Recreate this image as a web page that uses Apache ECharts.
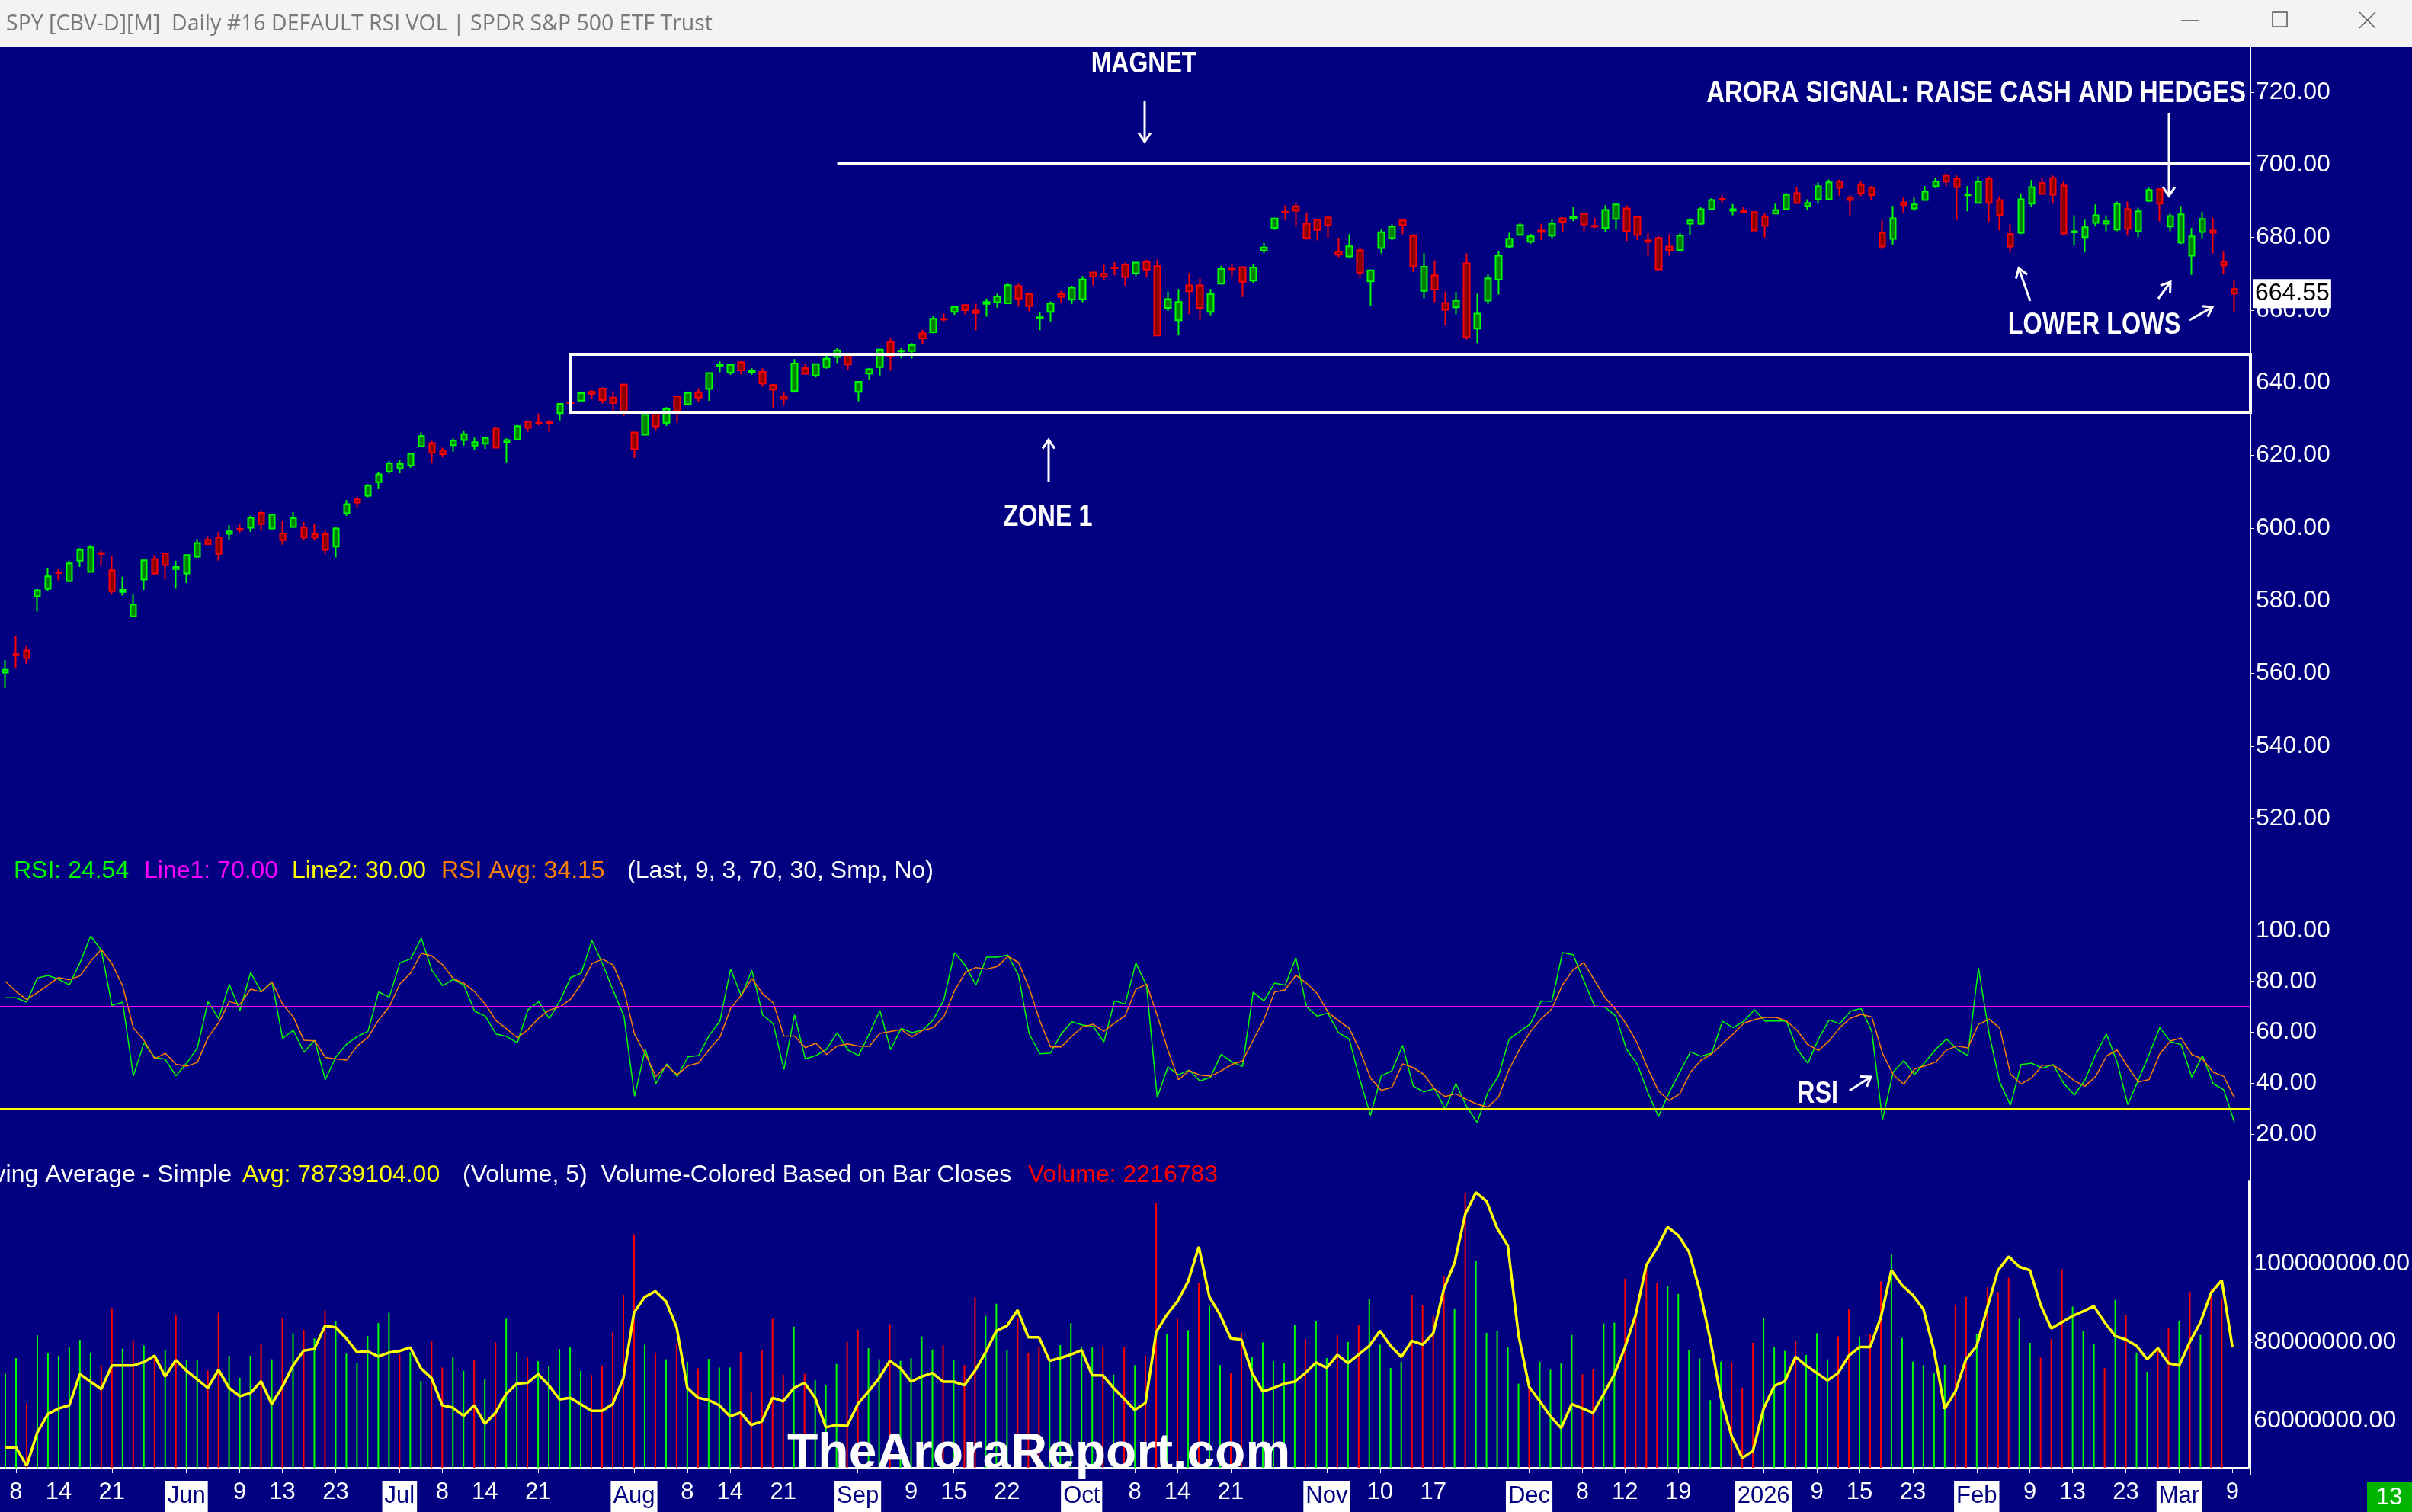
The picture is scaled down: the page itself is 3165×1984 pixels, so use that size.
<!DOCTYPE html>
<html><head><meta charset="utf-8"><title>SPY Daily</title>
<script src="https://cdn.jsdelivr.net/npm/echarts@6/dist/echarts.min.js"></script>
<style>html,body{margin:0;padding:0;background:#000080;overflow:hidden}#chart{width:3165px;height:1984px}</style>
</head><body><div id="chart"></div>
<script>
// trading days shown, by month
const may25=[7,8,9,12,13,14,15,16,19,20,21,22,23,27,28,29,30];
const jun25=[2,3,4,5,6,9,10,11,12,13,16,17,18,20,23,24,25,26,27,30];
const jul25=[1,2,3,7,8,9,10,11,14,15,16,17,18,21,22,23,24,25,28,29,30,31];
const aug25=[1,4,5,6,7,8,11,12,13,14,15,18,19,20,21,22,25,26,27,28,29];
const sep25=[2,3,4,5,8,9,10,11,12,15,16,17,18,19,22,23,24,25,26,29,30];
const oct25=[1,2,3,6,7,8,9,10,13,14,15,16,17,20,21,22,23,24,27,28,29,30,31];
const nov25=[3,4,5,6,7,10,11,12,13,14,17,18,19,20,21,24,25,26,28];
const dec25=[1,2,3,4,5,8,9,10,11,12,15,16,17,18,19,22,23,24,26,29,30,31];
const jan26=[2,5,6,7,8,9,12,13,14,15,16,20,21,22,23,26,27,28,29,30];
const feb26=[2,3,4,5,6,9,10,11,12,13,17,18,19,20,23,24,25,26,27];
const mar26=[2,3,4,5,6,9];

// x axis tick labels
const tickDates=['2025-05-08','2025-05-14','2025-05-21','2025-06-02','2025-06-09','2025-06-13','2025-06-23','2025-07-01','2025-07-08','2025-07-14','2025-07-21','2025-08-01','2025-08-08','2025-08-14','2025-08-21','2025-09-02','2025-09-09','2025-09-15','2025-09-22','2025-10-01','2025-10-08','2025-10-14','2025-10-21','2025-11-03','2025-11-10','2025-11-17','2025-12-01','2025-12-08','2025-12-12','2025-12-19','2026-01-02','2026-01-09','2026-01-15','2026-01-23','2026-02-02','2026-02-09','2026-02-13','2026-02-23','2026-03-02','2026-03-09'];
const tickTexts=['8','14','21','Jun','9','13','23','Jul','8','14','21','Aug','8','14','21','Sep','9','15','22','Oct','8','14','21','Nov','10','17','Dec','8','12','19','2026','9','15','23','Feb','9','13','23','Mar','9'];
const boxTicks=['Jun','Jul','Aug','Sep','Oct','Nov','Dec','2026','Feb','Mar'];

const open=[560.2,565.3,566.3,581.2,583.3,587.8,585.4,591.0,587.9,593.1,588.4,582.4,575.7,585.8,591.5,593.0,588.7,587.5,592.1,596.8,597.4,598.4,599.8,600.1,604.2,599.9,598.5,600.3,600.2,598.3,598.3,594.9,604.1,607.9,608.9,612.6,615.5,616.4,617.2,622.5,623.4,621.4,622.8,624.2,622.7,623.2,627.5,623.7,624.4,629.3,629.0,629.1,631.6,634.6,635.1,637.5,638.4,635.9,639.5,626.3,625.7,631.7,629.0,636.3,634.1,637.4,638.3,644.7,642.8,645.6,642.9,643.0,639.4,636.3,637.7,644.0,642.0,644.3,647.1,647.5,637.5,642.5,644.3,651.3,648.6,648.7,653.6,653.9,657.6,659.5,661.4,659.9,661.7,662.2,661.9,666.6,664.4,657.9,659.5,664.4,662.9,663.0,670.4,670.0,671.7,672.6,670.1,673.3,672.1,660.6,657.2,666.8,666.8,659.5,667.3,671.4,671.8,668.1,676.4,682.6,687.1,688.6,683.8,684.9,685.5,676.1,674.8,676.5,667.9,677.1,679.8,684.7,680.5,665.3,669.6,662.0,660.8,672.9,654.9,662.6,668.4,677.5,680.7,678.8,681.9,680.5,685.3,685.2,686.6,683.2,682.6,685.1,688.0,685.7,679.2,679.8,677.5,676.5,683.8,683.8,687.8,690.6,687.4,687.4,687.0,685.7,686.6,687.8,692.2,688.7,690.5,690.5,695.4,691.0,694.5,693.7,681.3,679.6,689.7,688.0,690.3,694.1,697.1,696.2,691.6,689.5,696.2,690.3,680.9,681.3,689.3,695.0,696.4,694.3,681.4,680.1,684.0,683.8,682.2,687.8,681.7,690.1,693.3,683.0,678.6,675.0,681.5,681.9,673.3,665.8];
const high=[563.7,570.2,567.5,583.2,589.1,588.9,591.0,594.5,595.3,593.8,592.4,586.6,581.7,591.2,592.6,593.2,591.0,592.7,597.0,597.8,598.9,600.8,601.2,603.4,604.9,603.9,601.9,604.4,601.7,601.2,599.4,600.4,607.7,608.6,612.1,615.3,618.5,618.8,620.5,626.3,624.0,622.1,624.7,626.9,624.9,625.2,627.9,624.7,628.4,629.5,631.5,629.8,634.2,636.0,637.6,638.0,638.7,637.7,639.8,626.3,631.3,632.3,633.3,636.3,637.6,638.5,642.9,645.9,645.1,646.0,644.0,644.0,639.7,637.6,646.5,645.3,645.3,647.4,649.5,647.9,640.5,644.1,649.2,652.2,649.7,650.9,654.6,658.3,659.1,661.0,661.5,661.8,663.2,664.5,667.3,667.3,664.6,659.5,662.4,665.3,666.7,669.4,670.6,672.5,673.2,673.1,673.2,673.9,673.9,665.1,665.8,670.2,668.7,665.8,672.2,672.9,672.1,672.7,678.5,685.5,688.9,689.7,686.9,685.1,685.9,679.9,680.9,677.3,671.1,682.2,683.6,684.96,680.9,675.7,673.7,665.1,665.0,675.6,664.5,670.0,676.2,681.3,683.9,681.0,683.8,684.9,685.5,688.3,686.8,685.4,688.9,689.3,688.9,686.0,681.2,680.3,680.8,681.2,685.3,688.3,690.8,691.7,689.2,688.5,687.2,686.8,689.3,692.2,694.0,690.5,695.2,696.0,696.0,691.6,695.4,694.2,684.7,688.7,691.0,691.0,694.2,696.4,697.7,697.1,694.2,696.8,696.8,691.4,683.6,692.2,695.8,696.4,697.1,695.4,686.1,684.9,689.1,686.1,689.9,689.9,688.2,693.7,693.5,686.8,688.7,682.6,687.0,685.5,676.1,668.3];
const low=[555.9,561.6,562.7,577.0,582.8,585.6,585.1,589.3,587.7,589.6,581.7,581.4,575.6,583.0,587.0,585.9,583.3,584.9,591.8,595.4,591.0,596.8,598.5,599.0,599.2,599.6,595.4,600.0,596.7,596.6,592.9,591.9,603.4,605.5,608.5,610.8,615.0,615.1,616.6,622.4,617.9,619.5,621.0,622.7,621.5,621.8,622.0,618.1,624.2,626.5,628.3,626.4,629.6,633.2,634.9,635.5,634.3,631.5,630.8,619.3,625.6,626.9,628.1,629.0,633.9,634.8,635.0,642.9,642.2,642.3,642.2,638.9,633.0,633.8,637.3,642.4,641.5,643.9,645.4,643.7,634.9,640.9,642.0,643.3,646.8,646.7,650.6,653.6,656.9,658.7,658.8,654.5,658.2,660.7,661.9,661.0,659.7,654.5,656.9,661.9,661.6,662.2,666.8,668.2,669.6,666.7,669.4,669.0,652.8,659.8,653.2,658.9,657.1,658.6,667.1,669.1,663.6,667.4,675.7,682.1,684.8,682.9,679.4,679.2,679.9,674.6,674.4,668.9,661.2,675.6,679.3,680.9,670.5,663.3,662.2,655.9,658.9,651.9,650.9,661.6,664.3,677.1,680.4,678.3,679.3,679.8,681.4,684.5,681.7,682.6,681.4,682.2,679.1,679.3,675.0,671.0,675.0,676.2,680.6,683.5,687.5,689.4,686.1,686.8,681.7,680.0,686.4,687.5,689.2,687.6,689.3,690.3,691.5,686.1,691.4,690.3,676.7,678.1,686.9,687.3,690.1,693.6,694.1,684.8,687.2,689.3,684.3,681.9,675.9,680.9,688.5,691.8,689.3,680.5,677.8,675.9,683.0,681.7,681.7,680.5,680.1,689.8,684.5,681.7,678.2,669.7,679.8,675.6,670.0,659.3];
const close=[561.0,565.0,564.2,582.9,586.7,587.6,590.3,594.0,594.7,592.9,582.6,583.0,578.9,591.1,587.5,589.8,589.3,592.6,595.9,595.6,592.9,599.1,599.5,602.8,601.1,603.7,596.7,602.7,597.4,597.4,594.0,599.9,606.6,607.0,611.7,614.8,617.8,617.65,620.45,625.34,620.68,620.34,624.06,625.82,623.62,624.81,622.14,624.22,628.04,627.58,628.77,628.86,634.21,634.42,637.10,636.94,635.26,634.46,632.08,621.72,631.17,627.97,632.78,632.25,637.18,635.92,642.69,644.89,644.95,643.44,643.30,639.81,638.11,635.55,645.31,642.47,645.16,646.63,648.92,645.05,640.27,643.74,649.12,647.24,648.83,650.33,652.21,657.63,657.41,660.91,660.00,659.18,662.26,663.70,666.84,663.21,661.10,658.05,661.82,663.68,666.18,668.45,669.22,669.21,671.61,669.12,673.11,671.16,653.02,663.04,662.23,665.17,660.64,664.39,671.30,671.29,667.80,671.76,677.25,685.24,687.06,687.39,679.83,682.06,683.34,675.24,677.58,670.31,670.97,681.44,683.00,683.38,672.04,671.93,665.67,660.08,662.63,652.53,659.03,668.73,675.02,679.68,683.39,680.27,681.5,683.8,684.3,685.7,683.6,683.0,687.6,689.1,681.7,680.7,678.8,671.2,676.5,680.5,684.7,687.8,690.3,690.4,687.8,687.0,681.9,683.2,687.6,691.8,689.5,689.5,694.1,695.2,693.7,690.3,692.2,691.6,677.5,685.3,688.9,689.1,692.6,695.4,695.4,693.9,691.9,695.4,689.5,686.1,677.5,690.5,693.9,692.0,691.8,681.1,681.7,682.8,686.1,684.5,689.3,682.4,687.2,693.1,689.3,685.9,686.4,680.3,685.1,681.3,672.3,664.55];
const prevClose=558.8;

// RSI(9) and its 3 bar average
const rsi=[73.5,73.5,71.8,81.3,82.3,80.8,78.6,87.3,97.8,92.3,70.5,71.8,42.8,55.8,50.1,49.3,42.8,47.8,53.8,72.0,65.3,78.8,68.5,83.5,75.8,79.8,57.5,60.8,52.1,56.8,41.3,50.3,55.3,58.3,60.3,75.8,73.8,87.3,88.8,97.0,84.3,78.3,80.8,78.5,68.3,66.3,59.3,58.3,55.8,68.8,72.0,65.3,72.3,81.5,83.3,96.1,86.8,76.3,66.3,34.8,53.3,39.8,47.5,42.6,50.3,50.8,58.8,64.3,84.8,74.3,84.3,66.8,63.3,45.3,66.8,49.5,50.8,53.3,59.8,53.0,50.8,59.3,68.5,53.1,61.5,59.8,60.8,64.8,72.8,91.3,86.3,78.5,89.5,89.5,90.3,82.3,59.3,51.5,51.8,59.3,64.1,62.8,62.3,56.1,72.3,71.1,87.3,78.3,34.3,46.3,43.3,45.1,40.8,42.3,51.3,48.3,46.5,75.8,72.3,79.3,78.5,89.3,70.0,66.3,67.5,59.8,57.3,41.3,27.3,42.8,44.8,54.8,38.8,36.5,37.8,29.8,39.8,30.8,24.5,36.3,42.8,57.3,60.3,63.3,72.3,72.1,91.3,90.5,80.3,70.3,69.8,66.3,53.3,47.5,36.3,26.8,36.3,44.3,52.3,50.5,51.8,64.3,61.8,64.3,68.8,64.3,64.5,64.3,53.3,47.8,57.3,64.8,63.3,68.3,69.3,60.3,25.5,44.3,48.8,43.3,48.3,53.3,57.3,53.3,50.8,85.3,59.3,40.3,31.3,47.3,47.8,45.8,47.3,39.8,35.3,41.3,51.3,59.3,48.3,31.5,41.3,51.3,61.8,56.3,55.1,42.3,50.8,39.8,37.3,24.54];
const rsiAvg=[80.0,76.0,72.9,75.5,78.5,81.5,80.6,82.2,87.9,92.5,86.9,78.2,61.7,56.8,49.6,51.7,47.4,46.6,48.1,57.9,63.7,72.0,70.9,76.9,75.9,79.7,71.0,66.0,56.8,56.6,50.1,49.5,49.0,54.6,58.0,64.8,70.0,79.0,83.3,91.0,90.0,86.5,81.1,79.2,75.9,71.0,64.6,61.3,57.8,61.0,65.5,68.7,69.9,73.0,79.0,87.0,88.7,86.4,76.5,59.1,51.5,42.6,46.9,43.3,46.8,47.9,53.3,58.0,69.3,74.5,81.1,75.1,71.5,58.5,58.5,53.9,55.7,51.2,54.6,55.4,54.5,54.4,59.5,60.3,61.0,58.1,60.7,61.8,66.1,76.3,83.5,85.4,84.8,85.8,89.8,87.4,77.3,64.4,54.2,54.2,58.4,62.1,63.1,60.4,63.6,66.5,76.9,78.9,66.6,53.0,41.3,44.9,43.1,42.7,44.8,47.3,48.7,56.9,64.9,75.8,76.7,82.4,79.3,75.2,67.9,64.5,61.5,52.8,42.0,37.1,38.3,47.5,46.1,43.4,37.7,34.7,35.8,33.5,31.7,30.5,34.5,45.5,53.5,60.3,65.3,69.2,78.6,84.6,87.4,80.4,73.5,68.8,63.1,55.7,45.7,36.9,33.1,35.8,44.3,49.0,51.5,55.5,59.3,63.5,65.0,65.8,65.9,64.4,60.7,55.1,52.8,56.6,61.8,65.5,67.0,66.0,51.7,43.4,39.5,45.5,46.8,48.3,53.0,54.6,53.8,63.1,65.1,61.6,43.6,39.6,42.1,47.0,47.0,44.3,40.8,38.8,42.6,50.6,53.0,46.4,40.4,41.4,51.5,56.5,57.7,51.2,49.4,44.3,42.6,34.15];

// volume in millions of shares and its 5 bar simple average
const volM=[72.0,76.0,64.5,81.8,77.2,76.6,78.7,80.6,77.4,74.2,88.7,78.4,80.6,79.2,76.7,78.1,86.8,75.5,75.5,72.8,87.5,76.6,71.0,76.6,79.6,75.7,86.2,82.3,83.2,81.0,88.1,85.4,77.1,74.7,81.6,84.9,87.5,76.9,77.5,70.2,80.2,73.6,76.4,72.8,75.5,70.6,80.0,86.0,77.5,76.2,75.2,73.9,78.3,78.7,72.7,71.7,74.1,82.5,92.1,107.5,79.4,77.4,75.7,79.8,75.0,73.4,75.8,73.6,73.6,77.5,67.2,77.9,86.0,71.8,84.0,72.0,70.4,69.0,74.5,80.1,83.2,78.5,75.7,84.6,75.3,76.0,81.5,78.2,79.3,75.5,74.2,91.5,86.7,89.8,78.0,86.2,77.4,78.7,75.2,79.3,84.9,78.7,78.7,78.8,71.8,78.9,74.2,76.6,115.5,82.1,86.0,83.1,95.0,89.2,74.2,72.2,82.4,76.3,80.0,75.2,74.7,84.5,80.8,85.3,76.0,81.8,80.1,84.4,91.0,79.4,73.5,75.0,92.1,89.5,86.7,96.9,88.5,118.1,100.8,82.4,82.8,78.9,69.5,69.4,75.1,73.0,74.7,81.9,71.9,73.1,84.8,85.0,96.2,87.0,99.9,95.0,94.3,92.3,78.0,75.9,65.3,75.1,74.9,68.5,79.9,86.2,78.9,77.8,80.4,76.8,82.3,75.7,81.5,88.5,81.3,82.1,95.5,102.3,81.1,75.1,74.2,72.1,74.3,89.6,91.5,82.1,94.0,92.8,96.4,86.0,79.9,76.1,80.8,98.5,89.1,82.8,79.7,73.5,90.8,86.9,77.4,72.5,78.9,83.6,85.5,92.8,81.9,93.4,91.0,2.216783];
const volAvgM=[53.3,53.3,48.6,57.1,61.8,63.2,64.0,71.9,70.0,68.1,74.1,74.1,74.1,75.0,76.6,71.3,75.5,72.8,70.6,68.4,73.0,68.4,66.3,67.1,70.1,64.3,68.7,74.1,77.9,78.3,84.2,83.8,81.0,77.5,77.7,76.4,77.4,77.8,78.7,73.4,70.9,64.0,63.4,61.3,64.0,59.3,62.1,66.9,69.5,69.7,71.9,69.1,65.5,65.9,64.3,62.6,62.6,64.3,70.9,87.6,91.5,93.0,90.4,83.8,68.4,65.9,65.3,64.0,61.2,62.1,59.0,59.9,65.9,65.0,68.4,69.7,65.9,58.4,59.0,58.7,64.3,67.5,70.9,75.3,73.4,70.0,71.3,72.2,70.0,70.0,69.1,72.8,77.5,82.9,84.2,88.2,81.3,81.3,75.3,76.0,76.9,78.0,71.6,71.6,68.4,65.6,62.8,64.6,82.6,87.0,90.4,95.5,104.3,91.5,87.0,81.0,80.7,72.2,67.5,68.4,69.5,70.0,72.2,74.9,73.5,76.8,74.7,76.9,79.1,82.9,79.1,76.3,80.4,79.4,82.3,93.6,100.2,112.5,118.1,115.9,109.0,104.6,81.9,68.7,65.0,61.2,58.2,64.3,63.2,62.1,66.9,71.9,78.8,87.0,99.6,104.0,109.3,107.2,103.0,93.3,80.7,65.9,56.2,50.6,52.4,63.1,68.9,70.1,76.3,74.1,72.2,70.3,72.2,76.6,78.8,78.8,86.3,98.3,94.5,92.0,88.4,77.9,63.1,67.5,75.7,79.1,88.9,98.3,101.8,99.2,98.3,89.5,83.5,85.1,86.7,87.9,89.2,85.1,81.6,80.7,79.1,75.7,78.5,74.7,74.1,80.1,85.1,92.6,95.8,78.739104];

// annotation levels
const magnetLevel=700.5, magnetFrom='2025-08-28';
const zoneTop=647.8, zoneBottom=631.9, zoneFrom='2025-07-24';

const days=[];
[['2025-05',may25],['2025-06',jun25],['2025-07',jul25],['2025-08',aug25],['2025-09',sep25],['2025-10',oct25],['2025-11',nov25],['2025-12',dec25],['2026-01',jan26],['2026-02',feb26],['2026-03',mar26]]
 .forEach(m=>m[1].forEach(d=>days.push(m[0]+'-'+(d<10?'0'+d:d))));
const cats=days.concat(['']);

const candle=days.map((d,i)=>[open[i],close[i],low[i],high[i]]);
const volBars=volM.map((v,i)=>{
 let pc=i?close[i-1]:prevClose;
 return {value:v,itemStyle:{color:close[i]>=pc?'#00ff00':'#ff0000'}};
});
const tickMap={};
tickDates.forEach((d,i)=>tickMap[d]=tickTexts[i]);
const lastClose=close[close.length-1];

const FONT='"Liberation Sans", Arial, sans-serif';
const AX={color:'#fff',fontSize:32,fontFamily:FONT,margin:7,padding:[8,0,0,0]};

function yAx(g,min,max,vals,fmt){
 return {type:'value',gridIndex:g,position:'right',min:min,max:max,
  axisLine:{show:true,lineStyle:{color:'#fff',width:2}},
  axisTick:{show:true,length:5,lineStyle:{color:'#fff'},customValues:vals},
  splitLine:{show:false},
  axisLabel:Object.assign({customValues:vals,formatter:fmt},AX)};
}
function xAx(g,show){
 return {type:'category',gridIndex:g,data:cats,show:show,
  axisLine:{show:show,lineStyle:{color:'#fff',width:2}},
  axisTick:{show:show,alignWithLabel:true,length:7,lineStyle:{color:'#fff'},interval:(i,v)=>tickMap[v]!==undefined},
  axisLabel:{show:show,interval:(i,v)=>tickMap[v]!==undefined,
   formatter:v=>{let t=tickMap[v];if(t===undefined)return '';return boxTicks.indexOf(t)>=0?'{b|'+t+'}':t;},
   color:'#fff',fontSize:31,fontFamily:FONT,margin:17,
   rich:{b:{backgroundColor:'#fff',color:'#000080',fontSize:31,fontFamily:FONT,padding:[5,3,5,3]}}},
  splitLine:{show:false}};
}

function arrow(x1,y1,x2,y2){
 let a=Math.atan2(y2-y1,x2-x1),h=14,w=0.6;
 return {type:'group',children:[
  {type:'line',shape:{x1:x1,y1:y1,x2:x2,y2:y2},style:{stroke:'#fff',lineWidth:3}},
  {type:'polyline',shape:{points:[[x2-h*Math.cos(a-w),y2-h*Math.sin(a-w)],[x2,y2],[x2-h*Math.cos(a+w),y2-h*Math.sin(a+w)]]},style:{stroke:'#fff',lineWidth:3,fill:null}}
 ]};
}
function txt(x,y,s,color,font,align,sx){
 return {type:'text',x:x,y:y,scaleX:sx||1,z:100,style:{text:s,fill:color,font:font,textAlign:align||'left',align:align||'left',textVerticalAlign:'middle',verticalAlign:'middle'}};
}
const BOLD=n=>'bold '+n+'px '+FONT;
const REG=n=>n+'px '+FONT;

var chart=echarts.init(document.getElementById('chart'),null,{renderer:'canvas'});
chart.setOption({
 animation:false,
 backgroundColor:'#000080',
 grid:[
  {left:-3,right:212,top:62,height:1048},
  {left:-3,right:212,top:1110,height:440},
  {left:-3,right:212,top:1550,height:386}
 ],
 xAxis:[xAx(0,false),xAx(1,false),xAx(2,true)],
 yAxis:[
  yAx(0,512.49,732.38,[520,540,560,580,600,620,640,660,680,700,720],v=>v.toFixed(2)),
  yAx(1,1.35,133.28,[20,40,60,80,100],v=>v.toFixed(2)),
  yAx(2,48.11,120.94,[60,80,100],v=>(v*1e6).toFixed(2))
 ],
 series:[
  {type:'candlestick',xAxisIndex:0,yAxisIndex:0,data:candle,barWidth:8,
   itemStyle:{color:'#008000',color0:'#8b0000',borderColor:'#00ff00',borderColor0:'#ff0000',borderWidth:2},
   markArea:{silent:true,z:5,data:[
    [{xAxis:zoneFrom,yAxis:zoneTop,itemStyle:{color:'rgba(0,0,0,0)',borderColor:'#ffffff',borderWidth:4}},{yAxis:zoneBottom}],
    [{xAxis:magnetFrom,yAxis:magnetLevel+0.42,itemStyle:{color:'#ffffff',borderWidth:0}},{yAxis:magnetLevel-0.42}]
   ]}
  },
  {type:'line',xAxisIndex:0,yAxisIndex:0,data:[],symbol:'none',silent:true,
   markLine:{silent:true,symbol:'none',z:6,data:[{yAxis:lastClose,lineStyle:{width:1,color:'rgba(0,0,0,0)'},
    label:{show:true,position:'end',distance:4,formatter:lastClose.toFixed(2),color:'#000000',backgroundColor:'#ffffff',fontSize:32,fontFamily:FONT,padding:[4,2,2,2]}}]}},
  {type:'line',xAxisIndex:1,yAxisIndex:1,data:rsi,symbol:'none',lineStyle:{color:'#00ff00',width:1.5},
   markLine:{silent:true,symbol:'none',label:{show:false},data:[
    {yAxis:70,lineStyle:{color:'#ff00ff',width:2,type:'solid'}},
    {yAxis:30,lineStyle:{color:'#ffff00',width:2,type:'solid'}}]}},
  {type:'line',xAxisIndex:1,yAxisIndex:1,data:rsiAvg,symbol:'none',lineStyle:{color:'#ff8000',width:1.5}},
  {type:'bar',xAxisIndex:2,yAxisIndex:2,data:volBars,barWidth:2},
  {type:'line',xAxisIndex:2,yAxisIndex:2,data:volAvgM,symbol:'none',lineStyle:{color:'#ffff00',width:3.5},z:3}
 ],
 graphic:[
  {type:'rect',shape:{x:0,y:0,width:3165,height:62},style:{fill:'#f3f3f3'},z:90},
  {type:'text',x:8,y:32,z:100,style:{text:'SPY [CBV-D][M]  Daily #16 DEFAULT RSI VOL | SPDR S&P 500 ETF Trust',fill:'#7a7a7a',font:'28.5px "Open Sans", "Noto Sans", sans-serif',textVerticalAlign:'middle',verticalAlign:'middle'}},
  {type:'line',z:100,shape:{x1:2862,y1:27,x2:2886,y2:27},style:{stroke:'#555',lineWidth:1.5}},
  {type:'rect',z:100,shape:{x:2982,y:16,width:19,height:19},style:{stroke:'#555',fill:null,lineWidth:1.5}},
  {type:'line',z:100,shape:{x1:3096,y1:16,x2:3117,y2:37},style:{stroke:'#555',lineWidth:1.5}},
  {type:'line',z:100,shape:{x1:3117,y1:16,x2:3096,y2:37},style:{stroke:'#555',lineWidth:1.5}},
  {type:'line',z:50,shape:{x1:2953,y1:62,x2:2953,y2:1936},style:{stroke:'#fff',lineWidth:2}},

  txt(1501,84,'MAGNET','#fff',BOLD(39),'center',0.82),
  arrow(1502,133,1502,186),
  txt(2947,123,'ARORA SIGNAL: RAISE CASH AND HEDGES','#fff',BOLD(40),'right',0.825),
  arrow(2846,148,2846,257),
  txt(1375,679,'ZONE 1','#fff',BOLD(40),'center',0.81),
  arrow(1376,633,1376,577),
  txt(2748,427,'LOWER LOWS','#fff',BOLD(41),'center',0.79),
  arrow(2664,395,2649,352),
  arrow(2832,392,2848,370),
  arrow(2873,420,2903,403),
  txt(2385,1436,'RSI','#fff',BOLD(40),'center',0.81),
  arrow(2427,1431,2455,1413),

  txt(18,1143,'RSI: 24.54','#00ff00',REG(32)),
  txt(189,1143,'Line1: 70.00','#ff00ff',REG(32)),
  txt(383,1143,'Line2: 30.00','#ffff00',REG(32)),
  txt(579,1143,'RSI Avg: 34.15','#ff8000',REG(32)),
  txt(823,1143,'(Last, 9, 3, 70, 30, Smp, No)','#ffffff',REG(32)),

  txt(304,1542,'Moving Average - Simple','#ffffff',REG(32),'right'),
  txt(318,1542,'Avg: 78739104.00','#ffff00',REG(32)),
  txt(607,1542,'(Volume, 5)  Volume-Colored Based on Bar Closes','#ffffff',REG(32)),
  txt(1349,1542,'Volume: 2216783','#ff0000',REG(32)),

  txt(1033,1909,'TheAroraReport.com','#ffffff',BOLD(66)),
  {type:'rect',z:100,shape:{x:3106,y:1944,width:59,height:40},style:{fill:'#00b400'}},
  txt(3135,1965,'13','#ffffff',REG(31),'center')
 ]
});
</script></body></html>
